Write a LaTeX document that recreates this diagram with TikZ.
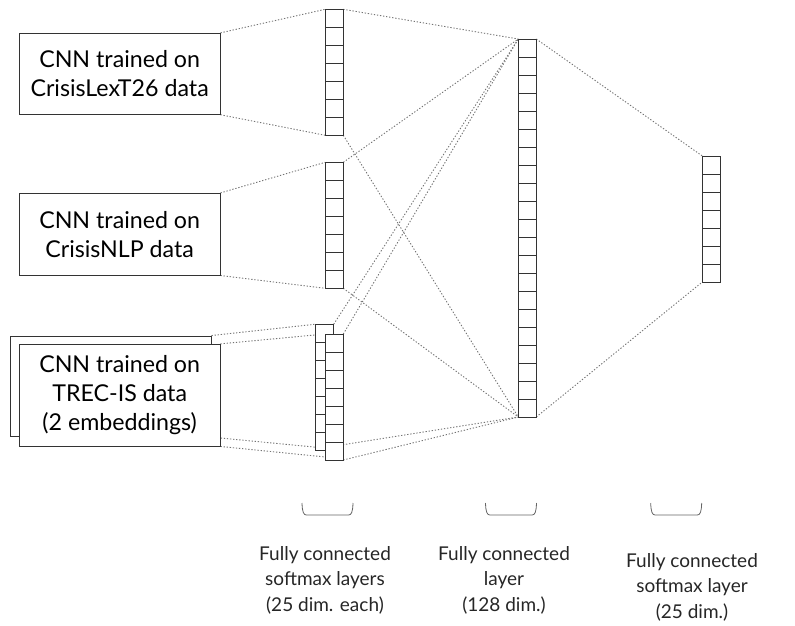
\documentclass[tikz,border=0pt]{standalone}
\usepackage{fontspec}
\setmainfont{Lato}
\usetikzlibrary{backgrounds}
\tikzset{
  box/.style={draw=black!80, line width=0.9pt, fill=white, inner sep=0pt,
    minimum width=200.7pt, align=center, font=\fontsize{23.2}{29}\selectfont},
  col/.style={draw=black!80, line width=0.9pt, fill=white, inner sep=0pt,
    outer sep=0pt, minimum width=18pt, minimum height=#1*18pt},
  cells/.style={path picture={
    \foreach \k in {1,...,#1}
      \draw[black!80, line width=0.9pt]
        ([yshift=-\k*18pt]path picture bounding box.north west) --
        ([yshift=-\k*18pt]path picture bounding box.north east);}},
  conn/.style={draw=black!55, line width=0.9pt, dash pattern=on 1.3pt off 1.8pt},
  lbl/.style={align=center, text=black!85, font=\fontsize{19}{25.5}\selectfont},
  brace/.pic={\draw[black!60, line width=0.8pt]
    (-25.5,0) .. controls (-25.2,9) and (-24,12) .. (-21,12) -- (21,12)
    .. controls (24,12) and (25.2,9) .. (25.5,0);}
}
\begin{document}
\begin{tikzpicture}[x=1pt,y=-1pt]
\useasboundingbox (0,0) rectangle (795,626);

% input boxes
\node[box, minimum height=81pt] (b1) at (119.65,73.8) {CNN trained on\\CrisisLexT26 data};
\node[box, minimum height=81.7pt] (b2) at (119.65,234.2) {CNN trained on\\CrisisNLP data};
\node[box, minimum width=200.3pt, minimum height=100.7pt] (b3b) at (110.85,386.35) {};
\node[box, minimum height=101.7pt] (b3f) at (119.65,395.15) {CNN trained on\\TREC-IS data\\(2 embeddings)};

% layer columns
\node[col=7, cells=6] (c1) at (334.3,72.3) {};
\node[col=7, cells=6] (c2) at (334.3,225.3) {};
\node[col=7, cells=6] (c3b) at (324.7,387.2) {};
\node[col=7, cells=6] (c3f) at (334.3,397) {};
\node[col=21, cells=20] (mid) at (527.3,228) {};
\node[col=7, cells=6] (out) at (711.3,219) {};

% connectors
\begin{scope}[on background layer]
\draw[conn] (b1.north east) -- (c1.north west);
\draw[conn] (b1.south east) -- (c1.south west);
\draw[conn] (b2.north east) -- (c2.north west);
\draw[conn] (b2.south east) -- (c2.south west);
\draw[conn] (b3b.north east) -- (c3b.north west);
\draw[conn] (b3b.south east) -- ([yshift=3pt]c3b.south west);
\draw[conn] (b3f.north east) -- (c3f.north west);
\draw[conn] (b3f.south east) -- ([yshift=3pt]c3f.south west);
\draw[conn] (c1.north east) -- (mid.north west);
\draw[conn] (c1.south east) -- (mid.south west);
\draw[conn] (c2.north east) -- (mid.north west);
\draw[conn] (c2.south east) -- (mid.south west);
\draw[conn] (c3b.north east) -- (mid.north west);
\draw[conn] (c3f.north east) -- (mid.north west);
\draw[conn] ([yshift=4pt]c3b.south east) -- (mid.south west);
\draw[conn] (c3f.south east) -- (mid.south west);
\draw[conn] (mid.north east) -- (out.north west);
\draw[conn] (mid.south east) -- (out.south west);
\end{scope}

% braces and labels
\pic at (327.5,503) {brace};
\pic at (511,503) {brace};
\pic at (676.2,503) {brace};
\node[lbl] (l1) at (325,580) {Fully connected\\softmax layers\\(25 dim. each)};
\node[lbl] (l2) at (504,580) {Fully connected\\layer\\(128 dim.)};
\node[lbl] (l3) at (692,587) {Fully connected\\softmax layer\\(25 dim.)};
\end{tikzpicture}
\end{document}
